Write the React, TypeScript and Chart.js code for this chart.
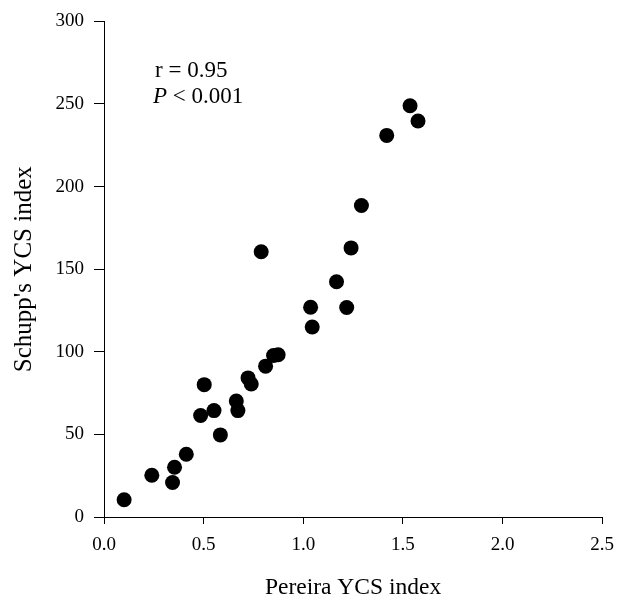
import React, { useEffect, useRef } from "react";
import { Chart, registerables } from "chart.js";

Chart.register(...registerables);

const pereiraIndex = [
  0.101, 0.24, 0.354, 0.344, 0.413, 0.485, 0.503, 0.552, 0.584, 0.664, 0.672, 0.723, 0.739,
  0.811, 0.851, 0.874, 0.789, 1.037, 1.045, 1.167, 1.218, 1.24, 1.292, 1.419, 1.536, 1.576,
];
const schuppIndex = [
  10.4, 25.3, 30.1, 20.9, 38.0, 61.4, 80.1, 64.4, 49.7, 70.2, 64.4, 84.2, 80.5,
  91.3, 97.8, 98.2, 160.6, 127.0, 115.0, 142.4, 126.8, 162.9, 188.6, 231.0, 248.9, 239.7,
];
const xTitle = "Pereira YCS index";
const yTitle = "Schupp's YCS index";
const statLine1 = "r = 0.95";
const statP = "P";
const statLine2Rest = " < 0.001";

const FONT = '"Liberation Serif", "Times New Roman", serif';

const annotationPlugin = {
  id: "statsText",
  afterDraw(chart: any) {
    const ctx = chart.ctx;
    ctx.save();
    ctx.fillStyle = "#000";
    ctx.textBaseline = "alphabetic";
    ctx.textAlign = "left";
    ctx.font = `23px ${FONT}`;
    const x = 155;
    ctx.fillText(statLine1, x, 77);
    ctx.font = `italic 23px ${FONT}`;
    ctx.fillText(statP, x - 2, 103);
    const w = ctx.measureText(statP).width;
    ctx.font = `23px ${FONT}`;
    ctx.fillText(statLine2Rest, x - 2 + w, 103);
    ctx.restore();
  },
};

export default function App() {
  const ref = useRef<HTMLCanvasElement>(null);
  useEffect(() => {
    if (!ref.current) return;
    const data = pereiraIndex.map((x, i) => ({ x, y: schuppIndex[i] }));
    const chart = new Chart(ref.current, {
      type: "scatter",
      data: {
        datasets: [
          {
            data,
            backgroundColor: "#000",
            borderWidth: 0,
            pointRadius: 7.5,
            pointHoverRadius: 7.5,
          },
        ],
      },
      options: {
        animation: false,
        responsive: false,
        devicePixelRatio: 1,
        events: [],
        layout: { padding: { top: 16, right: 18.5, bottom: 0, left: 0 } },
        plugins: { legend: { display: false }, tooltip: { enabled: false } },
        scales: {
          x: {
            type: "linear",
            min: 0,
            max: 2.5,
            afterFit(scale: any) {
              scale.height = 85;
            },
            ticks: {
              stepSize: 0.5,
              color: "#000",
              padding: 10,
              font: { family: FONT, size: 19 },
              callback: (v: any) => Number(v).toFixed(1),
            },
            grid: {
              drawOnChartArea: false,
              drawTicks: true,
              tickLength: 7,
              color: "#000",
              lineWidth: 1,
            },
            border: { color: "#000", width: 1 },
            title: {
              display: true,
              text: xTitle,
              color: "#000",
              font: { family: FONT, size: 23.5 },
              padding: { top: 0, bottom: 0 },
            },
          },
          y: {
            type: "linear",
            min: 0,
            max: 300,
            afterFit(scale: any) {
              scale.width = 104;
            },
            ticks: {
              stepSize: 50,
              color: "#000",
              padding: 10,
              font: { family: FONT, size: 19 },
            },
            grid: {
              drawOnChartArea: false,
              drawTicks: true,
              tickLength: 10,
              color: "#000",
              lineWidth: 1,
            },
            border: { color: "#000", width: 1 },
            title: {
              display: true,
              text: yTitle,
              color: "#000",
              font: { family: FONT, size: 25 },
              padding: { top: 9, bottom: 0 },
            },
          },
        },
      },
      plugins: [annotationPlugin],
    });
    return () => chart.destroy();
  }, []);
  return (
    <div style={{ position: "absolute", left: 0, top: 0, width: 624, height: 602, background: "#fff" }}>
      <canvas ref={ref} width={624} height={602} style={{ display: "block" }} />
    </div>
  );
}
